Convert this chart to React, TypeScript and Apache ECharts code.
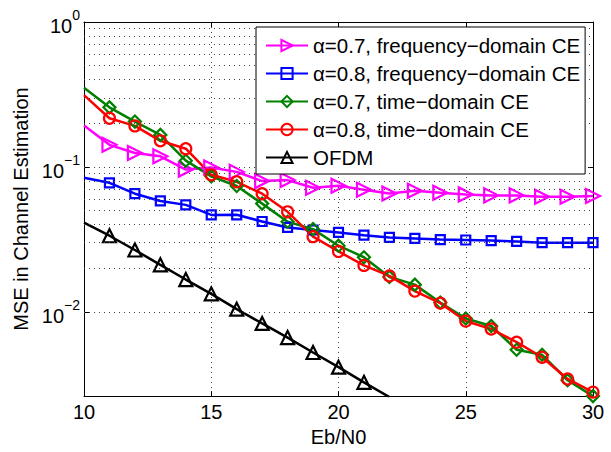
import React, { useEffect, useRef } from "react";
import * as echarts from "echarts";

const ebn0 = [10, 11, 12, 13, 14, 15, 16, 17, 18, 19, 20, 21, 22, 23, 24, 25, 26, 27, 28, 29, 30];
const ofdmX = [10, 11, 12, 13, 14, 15, 16, 17, 18, 19, 20, 21, 22];

const freq07 = [0.193, 0.142, 0.1247, 0.1184, 0.0958, 0.099, 0.0924, 0.0798, 0.0811, 0.0718, 0.0741, 0.0696, 0.0655, 0.0685, 0.0664, 0.0646, 0.0636, 0.0636, 0.0623, 0.0623, 0.063];
const freq08 = [0.0841, 0.0777, 0.0653, 0.0582, 0.0547, 0.0466, 0.0467, 0.042, 0.0382, 0.0367, 0.0353, 0.0338, 0.0326, 0.0321, 0.0315, 0.0313, 0.031, 0.0306, 0.030, 0.030, 0.030];
const time07 = [0.3516, 0.2576, 0.2055, 0.1663, 0.1104, 0.0861, 0.0738, 0.0558, 0.0418, 0.0372, 0.0286, 0.0238, 0.0174, 0.0154, 0.0116, 0.009, 0.00798, 0.00547, 0.00505, 0.00337, 0.00262];
const time08 = [0.3127, 0.2166, 0.1918, 0.1514, 0.1335, 0.0882, 0.0789, 0.0653, 0.049, 0.033, 0.0261, 0.0209, 0.0177, 0.0139, 0.01148, 0.00863, 0.00761, 0.00617, 0.00486, 0.00344, 0.00279];
const ofdm = [0.0413, 0.0335, 0.0267, 0.0211, 0.0167, 0.0133, 0.01043, 0.00832, 0.00664, 0.00524, 0.00415, 0.00326, 0.00258];

const seriesNames = [
  "α=0.7, frequency−domain CE",
  "α=0.8, frequency−domain CE",
  "α=0.7, time−domain CE",
  "α=0.8, time−domain CE",
  "OFDM",
];

const yGridValues = [
  0.003, 0.004, 0.005, 0.006, 0.007, 0.008, 0.009,
  0.01, 0.02, 0.03, 0.04, 0.05, 0.06, 0.07, 0.08, 0.09,
  0.1, 0.2, 0.3, 0.4, 0.5, 0.6, 0.7, 0.8, 0.9,
];

const X_MIN = 10;
const X_MAX = 30;
const Y_MIN = 0.00262;
const Y_MAX = 1;

const FONT = "Liberation Sans, Arial, Helvetica, sans-serif";

// the first point (x = 10) is drawn without a marker, as in the reference
function pairs(xs: number[], ys: number[]) {
  return xs.map((x, i) => (i === 0 ? { value: [x, ys[i]], symbol: "none" } : { value: [x, ys[i]] }));
}

export default function App() {
  const ref = useRef<HTMLDivElement>(null);
  useEffect(() => {
    if (!ref.current) return;
    const chart = echarts.init(ref.current, undefined, { renderer: "svg" });

    const mk = (
      name: string,
      data: any[],
      color: string,
      symbol: string,
      size: number,
      rotate = 0
    ) => ({
      name,
      type: "line",
      data,
      symbol,
      symbolSize: size,
      symbolRotate: rotate,
      showAllSymbol: true,
      clip: true,
      z: 3,
      color,
      lineStyle: { color, width: 2.5 },
      itemStyle: { color: "rgba(255,255,255,0)", borderColor: color, borderWidth: 2.2 },
      emphasis: { disabled: true },
    });

    const dotted = { type: [1, 4] as any, color: "#444", width: 1 };

    chart.setOption({
      animation: false,
      backgroundColor: "#fff",
      textStyle: { fontFamily: FONT },
      grid: { left: 84, right: 18, top: 22, bottom: 52, containLabel: false },
      legend: {
        data: seriesNames,
        orient: "vertical",
        left: 256,
        top: 27,
        itemWidth: 42,
        itemHeight: 14,
        itemGap: 7,
        padding: [8, 5, 6, 9],
        borderColor: "#000",
        borderWidth: 1,
        backgroundColor: "#fff",
        textStyle: { fontSize: 20.5, color: "#000", fontFamily: FONT, lineHeight: 20 },
        z: 10,
      },
      xAxis: [
        {
          type: "value",
          min: X_MIN,
          max: X_MAX,
          interval: 5,
          name: "Eb/N0",
          nameLocation: "middle",
          nameGap: 26,
          nameTextStyle: { fontSize: 20, color: "#000", fontFamily: FONT },
          axisLine: { show: true, lineStyle: { color: "#000", width: 1 } },
          axisTick: { show: true, inside: true, length: 5, lineStyle: { color: "#000" } },
          axisLabel: { fontSize: 20, color: "#000", margin: 6, fontFamily: FONT },
          splitLine: { show: true, lineStyle: dotted },
        },
        {
          type: "value",
          position: "top",
          min: X_MIN,
          max: X_MAX,
          interval: 5,
          axisLine: { show: true, lineStyle: { color: "#000", width: 1 } },
          axisTick: { show: true, inside: true, length: 5, lineStyle: { color: "#000" } },
          axisLabel: { show: false },
          splitLine: { show: false },
        },
      ],
      yAxis: [
        {
          type: "log",
          logBase: 10,
          min: Y_MIN,
          max: Y_MAX,
          name: "MSE in Channel Estimation",
          nameLocation: "middle",
          nameGap: 50,
          nameTextStyle: { fontSize: 20, color: "#000", fontFamily: FONT },
          axisLine: { show: true, lineStyle: { color: "#000", width: 1 } },
          axisTick: { show: true, inside: true, length: 5, lineStyle: { color: "#000" } },
          splitLine: { show: false },
          axisLabel: {
            margin: 4,
            color: "#000",
            formatter: (v: number) => {
              const l = Math.log10(v);
              const e = Math.round(l);
              if (Math.abs(l - e) > 1e-6) return "";
              const ex = e === 0 ? "0" : "−" + String(-e);
              return "{b|10}{s|" + ex + "}";
            },
            rich: {
              b: { fontSize: 20, color: "#000", fontFamily: FONT, verticalAlign: "bottom", padding: [8, 0, 0, 0] },
              s: { fontSize: 14, color: "#000", fontFamily: FONT, verticalAlign: "top" },
            },
          },
        },
        {
          type: "log",
          logBase: 10,
          position: "right",
          min: Y_MIN,
          max: Y_MAX,
          axisLine: { show: true, lineStyle: { color: "#000", width: 1 } },
          axisTick: { show: true, inside: true, length: 5, lineStyle: { color: "#000" } },
          axisLabel: { show: false },
          splitLine: { show: false },
        },
      ],
      series: [
        {
          name: "grid",
          type: "line",
          data: [],
          z: 1,
          silent: true,
          markLine: {
            silent: true,
            symbol: ["none", "none"],
            label: { show: false },
            lineStyle: dotted,
            emphasis: { disabled: true },
            data: yGridValues.map((v) => ({ yAxis: v })),
          },
        },
        mk(seriesNames[0], pairs(ebn0, freq07), "#ff00ff", "triangle", 14, -90),
        mk(seriesNames[1], pairs(ebn0, freq08), "#0000ff", "rect", 9),
        mk(seriesNames[2], pairs(ebn0, time07), "#008000", "diamond", 12),
        mk(seriesNames[3], pairs(ebn0, time08), "#ff0000", "circle", 11),
        mk(seriesNames[4], pairs(ofdmX, ofdm), "#000000", "triangle", 13),
      ],
    });

    return () => chart.dispose();
  }, []);

  return <div ref={ref} style={{ width: 611, height: 452, position: "absolute", left: 0, top: 0 }} />;
}
